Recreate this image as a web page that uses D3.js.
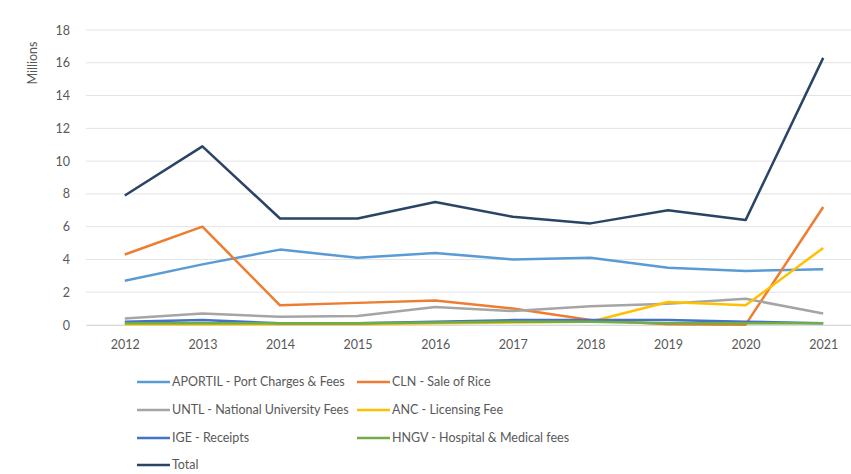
<!DOCTYPE html>
<html><head><meta charset="utf-8">
<script src="https://cdn.jsdelivr.net/npm/d3@7"></script>
<style>body{margin:0;background:#fff;} text{font-family:Lato,"Open Sans",sans-serif;}</style>
</head><body><svg id="c" width="851" height="474"></svg>
<script>
const years = ["2012","2013","2014","2015","2016","2017","2018","2019","2020","2021"];
const yTicks = [0,2,4,6,8,10,12,14,16,18];
const aportil = [2.7,3.7,4.6,4.1,4.4,4.0,4.1,3.5,3.3,3.4];
const cln     = [4.3,6.0,1.2,1.35,1.5,1.0,0.3,0.05,0.02,7.2];
const untl    = [0.4,0.7,0.5,0.55,1.1,0.85,1.15,1.3,1.6,0.7];
const anc     = [0.05,0.05,0.05,0.05,0.1,0.15,0.2,1.4,1.2,4.7];
const ige     = [0.2,0.3,0.1,0.1,0.2,0.3,0.3,0.3,0.2,0.1];
const hngv    = [0.1,0.1,0.1,0.1,0.15,0.2,0.2,0.1,0.1,0.1];
const total   = [7.9,10.9,6.5,6.5,7.5,6.6,6.2,7.0,6.4,16.3];
const names = ["APORTIL - Port Charges & Fees","CLN - Sale of Rice","UNTL - National University Fees","ANC - Licensing Fee","IGE - Receipts","HNGV - Hospital & Medical fees","Total"];
const colors = ["#5B9BD5","#ED7D31","#A5A5A5","#FFC000","#4472C4","#70AD47","#2A4466"];
const seriesVals = [aportil,cln,untl,anc,ige,hngv,total];

const svg = d3.select("#c");
const pL = 86, pR = 862, pT = 30, pB = 325;
const x = d3.scalePoint().domain(years).range([pL, pR]).padding(0.5);
const y = d3.scaleLinear().domain([0,18]).range([pB, pT]);
const fs = "12.5px";

svg.append("g").selectAll("line").data(yTicks).join("line")
  .attr("x1", pL).attr("x2", 851).attr("y1", d=>y(d)).attr("y2", d=>y(d))
  .attr("stroke","#e3e3e3").attr("stroke-width",1);

const ya = svg.append("g").attr("transform",`translate(${pL},0)`)
  .call(d3.axisLeft(y).tickValues(yTicks).tickSize(0).tickPadding(16));
ya.select(".domain").remove();
ya.selectAll("text").attr("fill","#595959").style("font-size",fs);

const xa = svg.append("g").attr("transform",`translate(0,${pB})`)
  .call(d3.axisBottom(x).tickSize(0).tickPadding(15));
xa.select(".domain").attr("stroke","#d9d9d9");
xa.selectAll("text").attr("fill","#595959").style("font-size",fs);

svg.append("text").attr("transform","translate(37,63) rotate(-90)")
  .attr("text-anchor","middle").attr("fill","#595959").style("font-size",fs).text("Millions");

const line = d3.line().x((d,i)=>x(years[i])).y(d=>y(d));
seriesVals.forEach((vals,k)=>{
  svg.append("path").datum(vals).attr("d",line).attr("fill","none")
    .attr("stroke",colors[k]).attr("stroke-width",2.5).attr("stroke-linejoin","round");
});

const legPos = [[137,382],[357,382],[137,410],[357,410],[137,438],[357,438],[137,465]];
names.forEach((n,k)=>{
  const [lx,ly] = legPos[k];
  svg.append("line").attr("x1",lx).attr("x2",lx+33).attr("y1",ly).attr("y2",ly)
    .attr("stroke",colors[k]).attr("stroke-width",2.5);
  svg.append("text").attr("x",lx+35).attr("y",ly+4).attr("fill","#595959")
    .style("font-size",fs).text(n);
});
</script></body></html>
